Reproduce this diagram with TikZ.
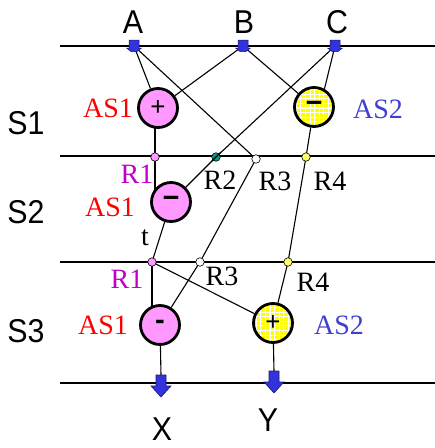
\documentclass[tikz,border=0pt]{standalone}
\usepackage{fontspec}
\setmainfont{Liberation Serif}
\newfontfamily\labelsans{Liberation Sans}
\usetikzlibrary{backgrounds,calc}

\definecolor{opfill}{HTML}{FF99FF}
\definecolor{gridyellow}{HTML}{FFFF00}
\definecolor{asred}{HTML}{FF0000}
\definecolor{asblue}{HTML}{3F3FD0}
\definecolor{rmag}{HTML}{C000C8}
\definecolor{rgreen}{HTML}{00A080}
\definecolor{rdotyellow}{HTML}{FFFF66}
\definecolor{portblue}{HTML}{3333DD}
\definecolor{portedge}{HTML}{1A1A66}

\newcommand\narrowtext[1]{\scalebox{0.92}[1]{#1}}

\tikzset{
  opnode/.style={circle, draw=black, line width=2.8pt, minimum size=39pt, inner sep=0pt,
    font=\labelsans\fontsize{26}{26}\selectfont},
  pinkop/.style={opnode, fill=opfill},
  yellowop/.style={opnode, fill=gridyellow,
    path picture={\draw[white, line width=1.1pt, step=4.6pt]
      (path picture bounding box.south west) grid (path picture bounding box.north east);}},
  minussign/.style={font=\labelsans\bfseries\fontsize{29}{29}\selectfont},
  rdot/.style={circle, draw=black, line width=0.6pt, minimum size=8.5pt, inner sep=0pt},
  wire/.style={line width=1.1pt},
  bus/.style={line width=1.3pt},
  lab/.style={inner sep=0pt, font=\fontsize{28}{28}\selectfont},
  sanslab/.style={inner sep=0pt, font=\labelsans\fontsize{33}{33}\selectfont},
  downarrow/.pic={
    \filldraw[fill=portblue, draw=portedge, line width=0.6pt]
      (-5,0) -- (5,0) -- (5,11) -- (10,11) -- (0,22) -- (-10,11) -- (-5,11) -- cycle;},
  portmark/.pic={
    \filldraw[fill=portblue, draw=portedge, line width=0.5pt]
      (-5,-6) -- (5,-6) -- (5,2) -- (7.5,2) -- (3,5.5) -- (-3,5.5) -- (-7.5,2) -- (-5,2) -- cycle;}
}

\begin{document}
\begin{tikzpicture}[x={(1pt,0)}, y={(0,-1pt)}]
\useasboundingbox (0,0) rectangle (435,448);

% stage boundaries
\coordinate (L0) at (60,46);  \coordinate (E0) at (435,46);
\coordinate (L1) at (60,156); \coordinate (E1) at (435,156);
\coordinate (L2) at (60,262); \coordinate (E2) at (435,262);
\coordinate (L3) at (60,383); \coordinate (E3) at (435,383);
\draw[bus] (L0) -- (E0);
\draw[bus] (L1) -- (E1);
\draw[bus] (L2) -- (E2);
\draw[bus] (L3) -- (E3);

% inputs and outputs
\coordinate (A) at (134,46);
\coordinate (B) at (243,46);
\coordinate (C) at (335,46);
\coordinate (X) at (161,375);
\coordinate (Y) at (274,371);

% operation circles
\node[pinkop]   (p1) at (158,108) {+};
\node[yellowop, minussign] (q1) at (314,107) {−};
\node[pinkop, minussign]   (p2) at (171,202) {−};
\node[pinkop, minussign]   (p3) at (160,325) {-};
\node[yellowop] (q3) at (273,323) {+};

% connectors, kept underneath the circles and points
\begin{pgfonlayer}{background}
  \draw[wire] (A) -- (p1);
  \draw[wire] (B) -- (p1);
  \draw[wire] (A) -- (256,159) coordinate (R3a);
  \draw[wire] (B) -- (q1);
  \draw[wire] (C) -- ($(q1.center)+(6,0)$);
  \draw[wire] (C) -- (216,157) coordinate (R2a);
  \draw[wire] (155,157) coordinate (R1a) -- (R1a |- p1.center);
  \draw[wire] (q1) -- (306,157) coordinate (R4a);
  \draw[wire] (R1a) -- (R1a |- p2.center);
  \draw[wire] (R2a) -- (p2);
  \draw[wire] (p2) -- (152,262) coordinate (R1b);
  \draw[wire] (R3a) -- (200,262) coordinate (R3b);
  \draw[wire] (R3b) -- (p3);
  \draw[wire] (R4a) -- (288,262) coordinate (R4b);
  \draw[wire] (R4b) -- (q3);
  \draw[wire] (R1b) -- (R1b |- p3.center);
  \draw[wire] (R1b) -- (q3);
  \draw[wire] (p3) -- (X);
  \draw[wire] (q3) -- (Y);
\end{pgfonlayer}

% register points
\node[rdot, fill=opfill]     (r1a) at (R1a) {};
\node[rdot, fill=rgreen]     (r2a) at (R2a) {};
\node[rdot, fill=white]      (r3a) at (R3a) {};
\node[rdot, fill=rdotyellow] (r4a) at (R4a) {};
\node[rdot, fill=opfill]     (r1b) at (R1b) {};
\node[rdot, fill=white]      (r3b) at (R3b) {};
\node[rdot, fill=rdotyellow] (r4b) at (R4b) {};
\draw[wire] ($(r2a)+(5,-5)$) -- ($(r2a)+(-4,4)$);

% port markers
\pic at (A) {portmark};
\pic at (B) {portmark};
\pic at (C) {portmark};
\pic at (X) {downarrow};
\pic at (Y) {downarrow};

% labels
\node[sanslab] (la) at (133,22) {\narrowtext{A}};
\node[sanslab] (lb) at (244,22) {\narrowtext{B}};
\node[sanslab] (lc) at (337,22) {\narrowtext{C}};
\node[sanslab] (ls1) at (26,123) {\narrowtext{S1}};
\node[sanslab] (ls2) at (26,212) {\narrowtext{S2}};
\node[sanslab] (ls3) at (26,331) {\narrowtext{S3}};
\node[sanslab] (lx) at (162,429) {\narrowtext{X}};
\node[sanslab] (ly) at (268,420) {\narrowtext{Y}};

\node[lab, text=asred]  (t1) at (108,108) {AS1};
\node[lab, text=asblue] (t2) at (378,109) {AS2};
\node[lab, text=rmag]   (t3) at (137,174) {R1};
\node[lab, text=asred]  (t4) at (110,207) {AS1};
\node[lab]              (t5) at (220,180) {R2};
\node[lab]              (t6) at (275,181) {R3};
\node[lab]              (t7) at (330,181) {R4};
\node[lab]              (t8) at (145,238) {t};
\node[lab, text=rmag]   (t9) at (127,279) {R1};
\node[lab]              (t10) at (222,276) {R3};
\node[lab]              (t11) at (313,282) {R4};
\node[lab, text=asred]  (t12) at (103,325) {AS1};
\node[lab, text=asblue] (t13) at (339,325) {AS2};
\end{tikzpicture}
\end{document}
